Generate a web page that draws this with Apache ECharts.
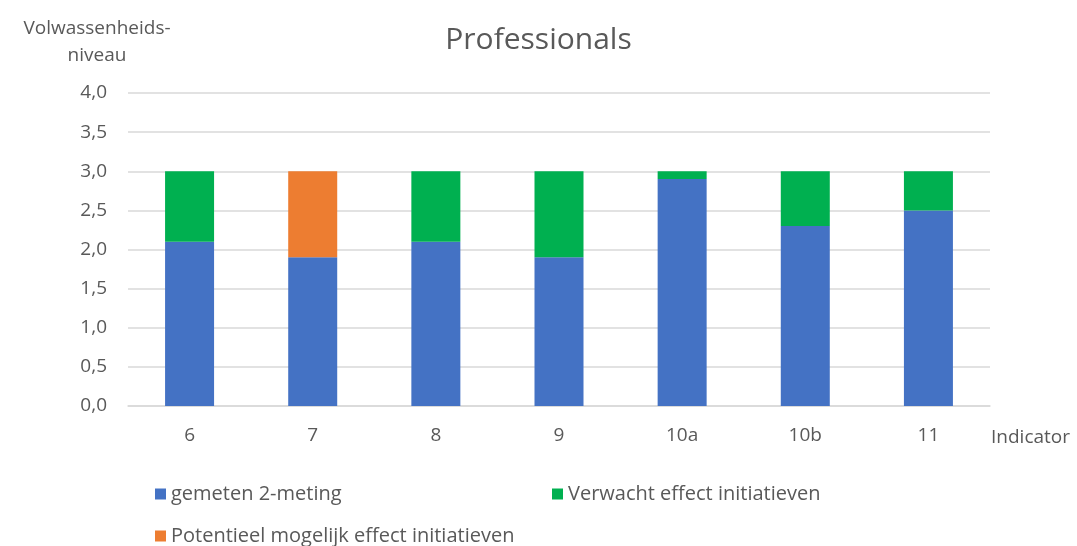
<!DOCTYPE html>
<html>
<head>
<meta charset="utf-8">
<script src="https://cdn.jsdelivr.net/npm/echarts@6/dist/echarts.min.js"></script>
<style>html,body{margin:0;padding:0;background:#fff;}#c{width:1077px;height:546px;}</style>
</head>
<body>
<div id="c"></div>
<script>
const categories = ['6', '7', '8', '9', '10a', '10b', '11'];
const gemeten = [2.1, 1.9, 2.1, 1.9, 2.9, 2.3, 2.5];
const verwacht = [0.9, 0, 0.9, 1.1, 0.1, 0.7, 0.5];
const potentieel = [0, 1.1, 0, 0, 0, 0, 0];
const seriesNames = ['gemeten 2-meting', 'Verwacht effect initiatieven', 'Potentieel mogelijk effect initiatieven'];
const colors = ['#4472C4', '#00B050', '#ED7D31'];

const FONT = 'Open Sans';
const TXT = '#595959';
const FS = 19;
const chart = echarts.init(document.getElementById('c'));
const legendBase = {
  icon: 'rect', itemWidth: 11, itemHeight: 11, itemGap: 7,
  textStyle: { color: TXT, fontSize: 20, fontFamily: FONT }
};
chart.setOption({
  animation: false,
  color: colors,
  title: {
    text: 'Professionals', left: 'center', top: 20,
    textStyle: { color: TXT, fontSize: 30, fontWeight: 'normal', fontFamily: FONT }
  },
  legend: [
    Object.assign({ data: [seriesNames[0]], left: 150, top: 479 }, legendBase),
    Object.assign({ data: [seriesNames[1]], left: 547, top: 479 }, legendBase),
    Object.assign({ data: [seriesNames[2]], left: 150, top: 521 }, legendBase)
  ],
  grid: { left: 128, right: 87, top: 93, bottom: 140, outerBoundsMode: 'none', containLabel: false },
  xAxis: {
    type: 'category', data: categories,
    name: 'Indicator', nameLocation: 'end', nameGap: 1,
    nameTextStyle: { color: TXT, fontSize: FS, fontFamily: FONT, align: 'left', verticalAlign: 'top', padding: [22, 0, 0, 0] },
    axisLine: { lineStyle: { color: '#d9d9d9', width: 1.5 } },
    axisTick: { show: false },
    axisLabel: { color: TXT, fontSize: FS, fontFamily: FONT, margin: 20 }
  },
  yAxis: {
    type: 'value', min: 0, max: 4, interval: 0.5,
    name: 'Volwassenheids-\nniveau', nameLocation: 'end', nameGap: 24,
    nameTextStyle: { color: TXT, fontSize: FS, fontFamily: FONT, align: 'center', lineHeight: 27, padding: [0, 62, 0, 0] },
    axisLine: { show: false }, axisTick: { show: false },
    splitLine: { lineStyle: { color: '#d9d9d9', width: 1.5 } },
    axisLabel: { color: TXT, fontSize: FS, fontFamily: FONT, margin: 21,
      formatter: v => v.toFixed(1).replace('.', ',') }
  },
  series: [
    { name: seriesNames[0], type: 'bar', stack: 's', data: gemeten, barWidth: 49 },
    { name: seriesNames[1], type: 'bar', stack: 's', data: verwacht, barWidth: 49 },
    { name: seriesNames[2], type: 'bar', stack: 's', data: potentieel, barWidth: 49 }
  ]
});
</script>
</body>
</html>
